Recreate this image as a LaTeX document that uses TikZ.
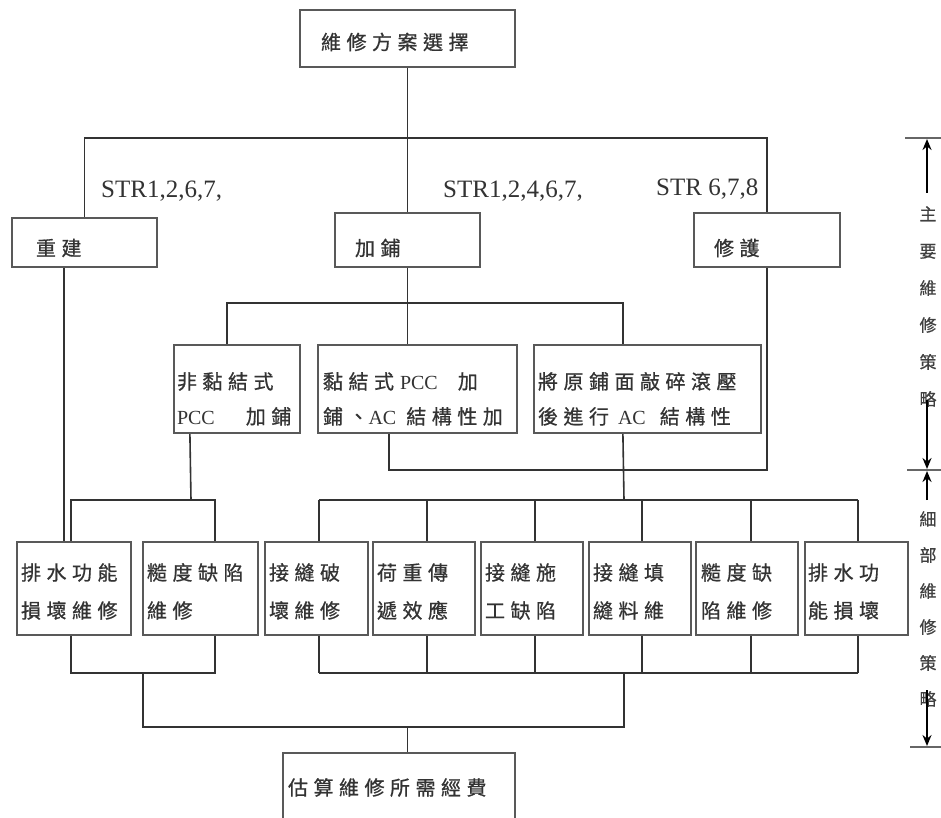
\documentclass[tikz,border=0pt]{standalone}
\usepackage{fontspec}
\setmainfont{Noto Sans CJK TC}[LetterSpace=27.5,FakeBold=0.7]
\newfontfamily\lat{Liberation Serif}
\newfontfamily\cjkplain{Noto Sans CJK TC}[FakeBold=0.7]
\usetikzlibrary{calc,arrows.meta}
% \bx[options]{name}{x1}{y1}{x2}{y2}{xsep}{text}
\newcommand\bx[8][]{%
  \pgfmathsetmacro\bxW{#5-#3}\pgfmathsetmacro\bxH{#6-#4}%
  \pgfmathsetmacro\bxT{#5-#3-2*#7}%
  \pgfmathsetmacro\bxX{(#3+#5)/2}\pgfmathsetmacro\bxY{(#4+#6)/2}%
  \node[box,minimum width=\bxW pt,minimum height=\bxH pt,text width=\bxT pt,inner xsep=#7pt,#1] (#2) at (\bxX,\bxY) {#8};}
\begin{document}
\begin{tikzpicture}[x=1pt,y=-1pt,
  box/.style={draw=black!65, line width=2.2pt, fill=white, align=left, text=black!80,
    font=\fontsize{20}{35}\selectfont, inner ysep=0pt},
  wire/.style={draw=black!80, line width=1.6pt},
  lbl/.style={font=\lat\fontsize{25}{30}\selectfont, text=black!80, inner sep=0pt, anchor=base west},
  sidelbl/.style={font=\cjkplain\fontsize{17}{37}\selectfont, text=black!75, align=center, inner sep=0pt},
  arr/.style={draw=black, line width=2.2pt, -{Stealth[length=11pt,width=9pt]}},
  tickln/.style={draw=black!60, line width=1.5pt}]
\fill[white] (0,0) rectangle (941,818);
\useasboundingbox (0,0) rectangle (941,818);

% boxes
\bx[text height=22.2pt,text depth=0pt]{top}{300}{10}{515}{67}{21}{維修方案選擇}
\bx[text height=26.2pt,text depth=0pt]{rebuild}{12}{218}{157}{267}{24}{重建}
\bx[text height=31.2pt,text depth=0pt]{overlay}{335}{213}{480}{267}{20}{加鋪}
\bx[text height=31.2pt,text depth=0pt]{repair}{694}{213}{840}{267}{20}{修護}
\bx[text height=20pt,text depth=20pt]{m1}{174}{345}{300}{433}{3}{非黏結式\\{\lat PCC}\kern31pt 加鋪}
\bx[text height=20pt,text depth=20pt]{m2}{318}{345}{517}{433}{5}{黏結式\kern6pt{\lat PCC}\kern20pt 加\\鋪、{\lat AC}\kern10pt 結構性加}
\bx[text height=20pt,text depth=20pt]{m3}{534}{345}{761}{433}{4}{將原鋪面敲碎滾壓\\後進行\kern9pt{\lat AC}\kern14pt 結構性}
\tikzset{bot/.style={font=\fontsize{20}{38}\selectfont,text height=17.6pt,text depth=34.4pt}}
\bx[bot]{b1}{17}{542}{131}{635}{4}{排水功能\\損壞維修}
\bx[bot]{b2}{143}{542}{258}{635}{4}{糙度缺陷\\維修}
\bx[bot]{b3}{265}{542}{368}{635}{4}{接縫破\\壞維修}
\bx[bot]{b4}{373}{542}{475}{635}{4}{荷重傳\\遞效應}
\bx[bot]{b5}{481}{542}{583}{635}{4}{接縫施\\工缺陷}
\bx[bot]{b6}{589}{542}{691}{635}{4}{接縫填\\縫料維}
\bx[bot]{b7}{696}{542}{798}{635}{5}{糙度缺\\陷維修}
\bx[bot]{b8}{805}{542}{908}{635}{3}{排水功\\能損壞}
\bx{final}{283}{753}{515}{822}{5}{估算維修所需經費}

% junctions
\coordinate (j1) at (407.5,138);
\coordinate (j2) at (407.5,303);
\coordinate (j3) at (767,470);
\coordinate (j4) at (191,500);
\coordinate (j5) at (624,500);
\coordinate (ylow) at (0,673);
\coordinate (la) at (143,673);
\coordinate (ra) at (624,673);
\coordinate (j7) at (407.5,727);

% connectors
\draw[wire] (rebuild.north) |- (j1) -| (repair.north);
\draw[wire] (top.south) -- (overlay.north);
\draw[wire] ($(rebuild.south west)+(53,0)$) -- ($(b1.north west)+(48,0)$);
\draw[wire] (overlay.south) -- (overlay.south |- m2.north);
\draw[wire] ($(m1.north west)+(54,0)$) |- (j2) -| ($(m3.north west)+(90,0)$);
\draw[wire] ($(m2.south west)+(72,0)$) |- (j3) -- (repair.south);
\draw[wire] ($(m1.south west)+(17,0)$) -- (j4);
\path ($(b1.north west)+(55,0)$) coordinate (tb1) ($(b2.north west)+(73,0)$) coordinate (tb2)
      ($(b1.south west)+(55,0)$) coordinate (sb1) ($(b2.south west)+(73,0)$) coordinate (sb2);
\draw[wire] (tb1) |- (j4) -| (tb2);
\draw[wire] ($(m3.south west)+(90,0)$) -- (j5);
\foreach \n/\d in {b3/55,b4/55,b5/55,b6/54,b7/56,b8/54}{
  \path ($(\n.north west)+(\d,0)$) coordinate (t\n) ($(\n.south west)+(\d,0)$) coordinate (s\n);
  \draw[wire] (t\n) -- (t\n |- j5);
  \draw[wire] (s\n) -- (s\n |- ylow);
}
\draw[wire] (tb3 |- j5) -- (tb8 |- j5);
\draw[wire] (sb3 |- ylow) -- (sb8 |- ylow);
\draw[wire] (sb1) |- (la) -| (sb2);
\draw[wire] (la) |- (j7) -| (ra);
\draw[wire] (j7) -- (j7 |- final.north);

% labels
\node[lbl] (s1) at (101,198) {STR1,2,6,7,};
\node[lbl] (s2) at (443,198) {STR1,2,4,6,7,};
\node[lbl] (s3) at (656,196) {STR 6,7,8};

% side scale
\node[sidelbl] (sideA) at (928,306.5) {主\\要\\維\\修\\策\\略};
\node[sidelbl, font=\cjkplain\fontsize{17}{36}\selectfont] (sideB) at (928,609) {細\\部\\維\\修\\策\\略};
\draw[tickln] (905,138) -- (941,138);
\draw[tickln] (907,470) -- (941,470);
\draw[tickln] (910,747) -- (941,747);
\coordinate (a1) at (927,193); \coordinate (a1e) at (927,139);
\coordinate (a2) at (927,400); \coordinate (a2e) at (927,469);
\coordinate (a3) at (927,500); \coordinate (a3e) at (927,471);
\coordinate (a4) at (927,690); \coordinate (a4e) at (927,746);
\draw[arr] (a1) -- (a1e);
\draw[arr] (a2) -- (a2e);
\draw[arr] (a3) -- (a3e);
\draw[arr] (a4) -- (a4e);
\end{tikzpicture}
\end{document}
